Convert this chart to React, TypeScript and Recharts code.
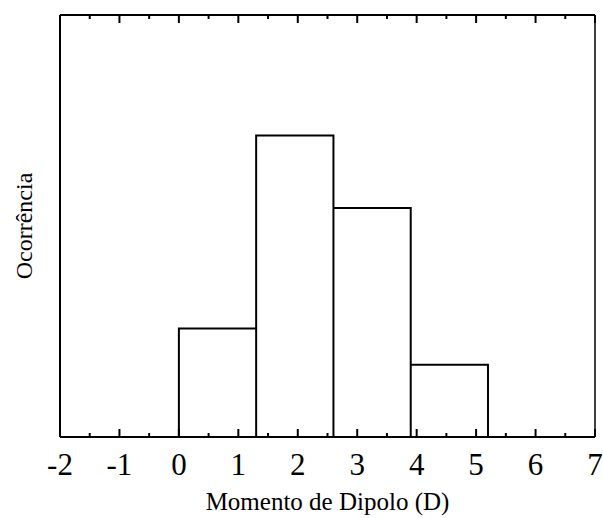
import React from 'react';
import { ComposedChart, XAxis, YAxis, Line } from 'recharts';

// histogram bins of the dipole moment (D) and their counts
const binStarts = [0, 1.3, 2.6, 3.9];
const binWidth = 1.3;
const counts = [9, 25, 19, 6];

const xTicks = [-2, -1.5, -1, -0.5, 0, 0.5, 1, 1.5, 2, 2.5, 3, 3.5, 4, 4.5, 5, 5.5, 6, 6.5, 7];
const xDomain: [number, number] = [-2, 7];
const yDomain: [number, number] = [0, 35];

const serif = '"Liberation Serif", "Times New Roman", serif';

// outline of each bin: up the left edge, across the top, down the right edge
const outline = binStarts.flatMap((s, i) => [
  { x: s, y: 0 },
  { x: s, y: counts[i] },
  { x: s + binWidth, y: counts[i] },
  { x: s + binWidth, y: 0 },
]);

const BottomTick = (props: any) => {
  const { x, y, payload } = props;
  const major = Number.isInteger(payload.value);
  return (
    <g>
      <line x1={x} x2={x} y1={y} y2={y - (major ? 8 : 4)} stroke="#000" strokeWidth={2} />
      {major && (
        <text x={x} y={y + 38} textAnchor="middle" fontFamily={serif} fontSize={31} fill="#000">
          {payload.value}
        </text>
      )}
    </g>
  );
};

const TopTick = (props: any) => {
  const { x, y, payload } = props;
  const major = Number.isInteger(payload.value);
  return <line x1={x} x2={x} y1={y} y2={y + (major ? 8 : 4)} stroke="#000" strokeWidth={2} />;
};

export default function App() {
  return (
    <div style={{ position: 'absolute', left: 0, top: 0, background: '#fff' }}>
      <ComposedChart width={603} height={518} data={outline} margin={{ top: 14, right: 0, bottom: 0, left: 0 }}>
        <XAxis
          xAxisId="bottom"
          type="number"
          dataKey="x"
          domain={xDomain}
          ticks={xTicks}
          interval={0}
          height={81}
          tickSize={0}
          tickMargin={0}
          tickLine={false}
          axisLine={{ stroke: '#000', strokeWidth: 2 }}
          tick={<BottomTick />}
          label={{
            value: 'Momento de Dipolo (D)',
            position: 'insideBottom',
            offset: 8,
            style: { fontFamily: serif, fontSize: 25, fill: '#000' },
          }}
        />
        <XAxis
          xAxisId="top"
          orientation="top"
          type="number"
          dataKey="x"
          domain={xDomain}
          ticks={xTicks}
          interval={0}
          height={1}
          tickSize={0}
          tickMargin={0}
          tickLine={false}
          axisLine={{ stroke: '#000', strokeWidth: 2 }}
          tick={<TopTick />}
        />
        <YAxis
          yAxisId="left"
          type="number"
          domain={yDomain}
          width={60}
          tick={false}
          tickLine={false}
          axisLine={{ stroke: '#000', strokeWidth: 2 }}
          label={{
            content: (p: any) => {
              const vb = p.viewBox || {};
              const cy = (vb.y ?? 15) + (vb.height ?? 422) / 2;
              return (
                <text
                  x={32}
                  y={cy}
                  transform={`rotate(-90, 32, ${cy})`}
                  textAnchor="middle"
                  fontFamily={serif}
                  fontSize={24}
                  fill="#000"
                >
                  Ocorrência
                </text>
              );
            },
          }}
        />
        <YAxis
          yAxisId="right"
          orientation="right"
          type="number"
          domain={yDomain}
          width={8}
          tick={false}
          tickLine={false}
          axisLine={{ stroke: '#000', strokeWidth: 1.5 }}
        />
        <Line
          xAxisId="bottom"
          yAxisId="left"
          dataKey="y"
          type="linear"
          stroke="#000"
          strokeWidth={2}
          dot={false}
          isAnimationActive={false}
        />
      </ComposedChart>
    </div>
  );
}
